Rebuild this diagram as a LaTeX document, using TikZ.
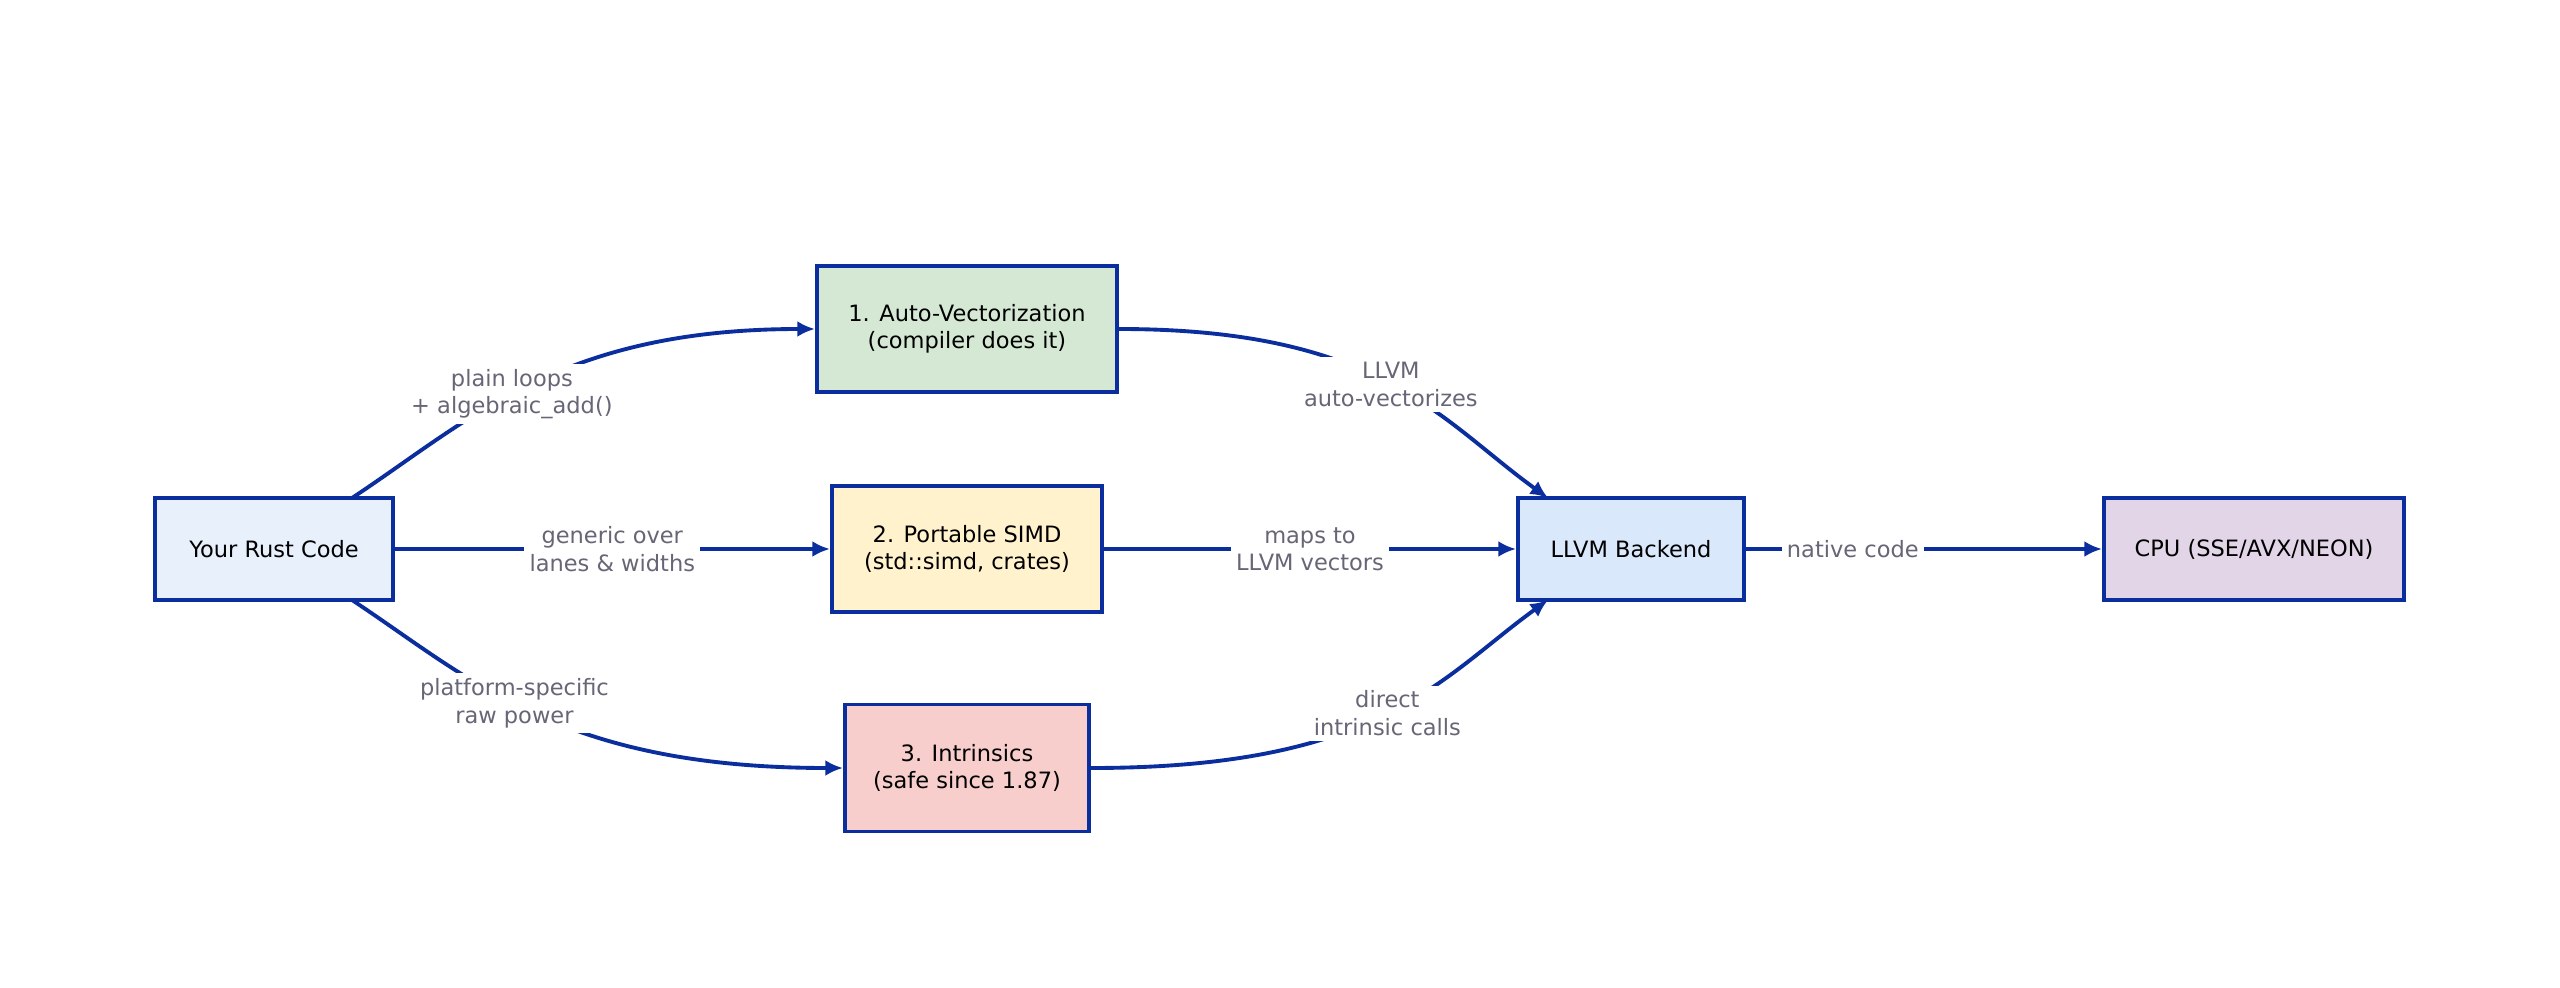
\documentclass[tikz,border=0pt]{standalone}
\usepackage{fontspec}
\setmainfont{DejaVu Sans}
\usetikzlibrary{arrows.meta}
\definecolor{bd}{HTML}{0B2E9E}
\definecolor{lb}{HTML}{666677}
\begin{document}
\begin{tikzpicture}[x=0.01cm,y=-0.01cm,
  box/.style={draw=bd,line width=1.1pt,align=center,inner sep=0pt,font=\fontsize{6.4pt}{7.8pt}\selectfont},
  ar/.style={draw=bd,line width=1.1pt,-{Latex[length=5pt,width=4.5pt]}},
  lab/.style={fill=white,text=lb,align=center,inner sep=1.5pt,font=\fontsize{6.4pt}{7.8pt}\selectfont}]
\useasboundingbox (0,0) rectangle (2560,988);
\fill[white] (0,0) rectangle (2560,988);
\node[box,fill={rgb,255:red,232;green,240;blue,252},minimum width=2.37cm,minimum height=1.02cm] (rust) at (274,549) {Your Rust Code};
\node[box,fill={rgb,255:red,213;green,232;blue,212},minimum width=3.0cm,minimum height=1.26cm] (auto) at (967,329) {1. Auto-Vectorization\\(compiler does it)};
\node[box,fill={rgb,255:red,255;green,242;blue,204},minimum width=2.7cm,minimum height=1.26cm] (port) at (967,549) {2. Portable SIMD\\(std::simd, crates)};
\node[box,fill={rgb,255:red,248;green,206;blue,204},minimum width=2.44cm,minimum height=1.27cm] (intr) at (967,768) {3. Intrinsics\\(safe since 1.87)};
\node[box,fill={rgb,255:red,218;green,232;blue,252},minimum width=2.26cm,minimum height=1.02cm] (llvm) at (1631,549) {LLVM Backend};
\node[box,fill={rgb,255:red,225;green,213;blue,231},minimum width=3.0cm,minimum height=1.02cm] (cpu) at (2254,549) {CPU (SSE/AVX/NEON)};
\coordinate (rt) at (352,498);
\coordinate (rb) at (352,600);
\coordinate (lt) at (1548,498);
\coordinate (lbm) at (1548,600);
\draw[ar] (rt) .. controls (470,420) and (560,329) .. node[lab,pos=0.45]{plain loops\\+ algebraic\_add()} (auto.west);
\draw[ar] (rust) -- node[lab,pos=0.5]{generic over\\lanes \& widths} (port);
\draw[ar] (rb) .. controls (470,678) and (560,768) .. node[lab,pos=0.45]{platform-specific\\raw power} (intr.west);
\draw[ar] (auto.east) .. controls (1380,329) and (1440,420) .. node[lab,pos=0.5]{LLVM\\auto-vectorizes} (lt);
\draw[ar] (port) -- node[lab,pos=0.5]{maps to\\LLVM vectors} (llvm);
\draw[ar] (intr.east) .. controls (1380,768) and (1440,678) .. node[lab,pos=0.5]{direct\\intrinsic calls} (lbm);
\draw[ar] (llvm) -- node[lab,pos=0.3]{native code} (cpu);
\end{tikzpicture}
\end{document}
